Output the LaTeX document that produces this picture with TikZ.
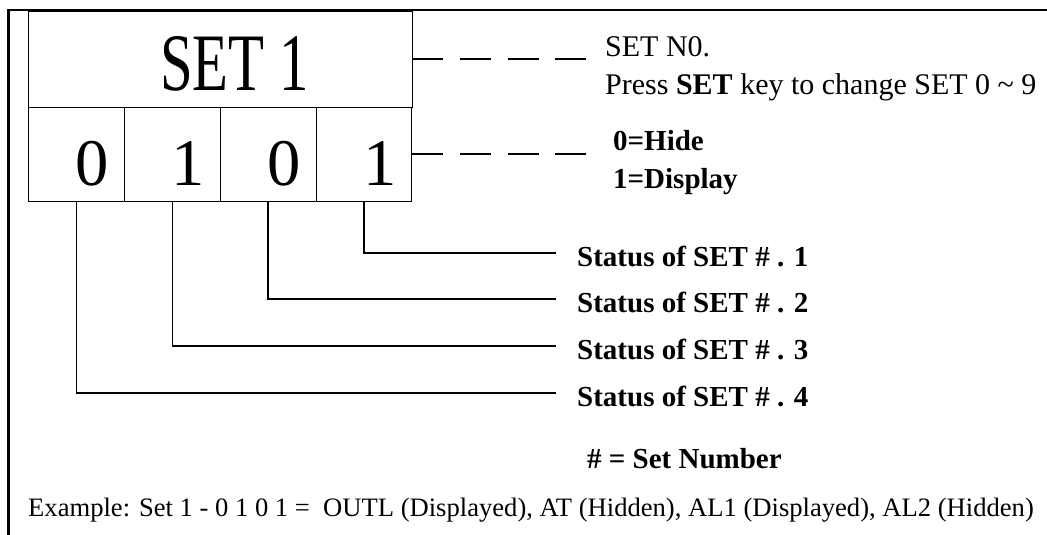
\documentclass[tikz,border=0pt]{standalone}
\usepackage{fontspec}
\setmainfont{Liberation Serif}
\usetikzlibrary{positioning}

\tikzset{
  frame/.style={line width=2.4pt},
  boxline/.style={draw, line width=0.9pt, inner sep=0pt},
  cellbox/.style={boxline, minimum width=95.8pt, minimum height=94pt},
  connector/.style={line width=1.6pt},
  dashline/.style={line width=1.8pt, dash pattern=on 31pt off 16.6pt},
  bigtext/.style={inner sep=0pt, font=\fontsize{81.6}{90}\selectfont},
  digittext/.style={inner sep=0pt, font=\fontsize{66.6}{72}\selectfont},
  notetext/.style={inner sep=0pt, font=\fontsize{30}{36}\selectfont},
  boldnote/.style={inner sep=0pt, font=\fontsize{29}{34}\selectfont\bfseries},
  exampletext/.style={inner sep=0pt, font=\fontsize{26.6}{32}\selectfont}
}

\begin{document}
\begin{tikzpicture}[x=1pt,y=-1pt]
  \useasboundingbox (0,0) rectangle (1047,535);
  % outer frame (only top and left visible)
  \draw[frame] (8.5,535) -- (8.5,10) -- (1047,10);

  % display box
  \node[boxline, minimum width=383.3pt, minimum height=96pt] (title) at (220.35,59) {};
  \node[bigtext, anchor=base] (settext) at (234.5,90) {\scalebox{0.72}[1]{SET 1}};
  \foreach \d [count=\i] in {0,1,0,1} {
    \pgfmathsetmacro\cx{28.7+95.8*(\i-0.5)}
    \node[cellbox] (c\i) at (\cx,154) {};
    \node[digittext, anchor=base] (d\i) at (\cx+16,185) {\d};
  }

  % dashed leaders
  \coordinate (setend) at (586,59);
  \coordinate (bitend) at (586,154);
  \draw[dashline] (title.east) -- (setend);
  \draw[dashline] (c4.east) -- (bitend);

  \node[notetext, anchor=base west] (setno) at (605,57) {SET N0.};
  \node[notetext, anchor=base west] (press) at (605,95) {Press \textbf{SET} key to change SET 0 \textasciitilde{} 9};
  \node[boldnote, anchor=base west] (hide) at (613,150) {0=Hide};
  \node[boldnote, anchor=base west] (show) at (613,188) {1=Display};

  % status lines
  \foreach \i/\y in {1/266,2/312,3/359,4/406} {
    \node[boldnote, anchor=base west] (s\i) at (577,\y) {Status of SET \# . \i};
  }
  \foreach \i [evaluate=\i as \j using int(5-\i)] in {1,2,3,4} {
    \draw[connector] (c\j.south) |- ([shift={(-21pt,13pt)}]s\i.base west);
  }

  \node[boldnote, anchor=base west] (setnum) at (587,468) {\# = Set Number};
  \node[exampletext, anchor=base west] (example) at (28,516) {Example: Set 1 - 0 1 0 1 = \ OUTL (Displayed), AT (Hidden), AL1 (Displayed), AL2 (Hidden)};
\end{tikzpicture}
\end{document}
